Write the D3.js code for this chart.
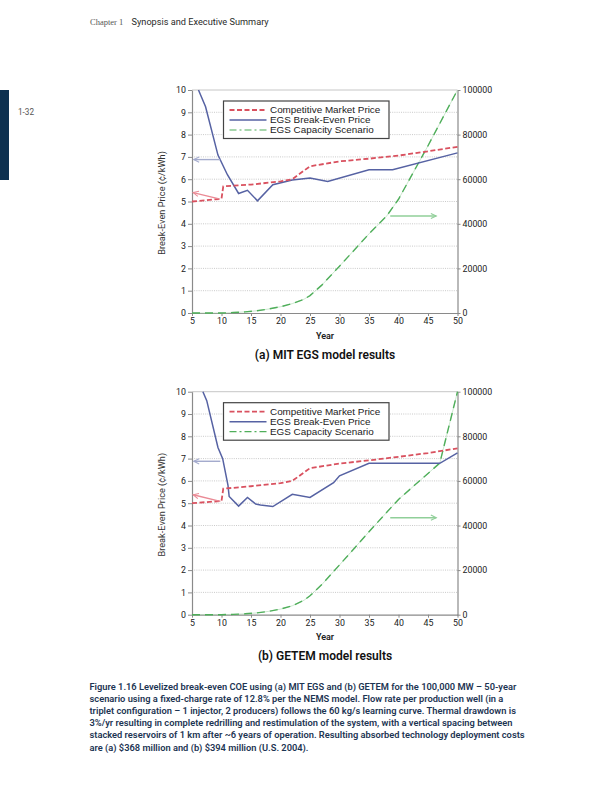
<!DOCTYPE html>
<html>
<head>
<meta charset="utf-8">
<script src="https://cdn.jsdelivr.net/npm/d3@7"></script>
<style>
  body { margin: 0; background: #fff; }
  svg { display: block; }
</style>
</head>
<body>
<svg id="page" width="612" height="792"></svg>
<script>
// tick labels
const yearTicks = [5, 10, 15, 20, 25, 30, 35, 40, 45, 50];
const priceTicks = [0, 1, 2, 3, 4, 5, 6, 7, 8, 9, 10];
const capTicks = [0, 20000, 40000, 60000, 80000, 100000];

const seriesNames = ["Competitive Market Price", "EGS Break-Even Price", "EGS Capacity Scenario"];

// (a) MIT EGS  [year, value]
const mitMarket = [[5, 5.0], [10, 5.12], [10.3, 5.68], [15, 5.76], [20, 5.9], [22, 6.0], [25, 6.58],
  [30, 6.8], [35, 6.92], [40, 7.06], [45, 7.25], [50, 7.45]];
const mitBreakEven = [[6.1, 10], [7.3, 9.25], [9.4, 7.08], [11, 6.2], [12.9, 5.36], [14.4, 5.5],
  [16.1, 5.03], [18.7, 5.75], [22, 5.96], [25, 6.05], [28, 5.9], [35, 6.42], [39, 6.42], [50, 7.18]];
const mitCapacity = [[5, 0], [10, 0], [12, 200], [14, 500], [16, 1000], [18, 1800], [20, 2800],
  [22, 4200], [24, 6200], [25, 7800], [27, 12500], [30, 21000], [35, 35500], [38, 43500],
  [40, 51000], [45, 75000], [50, 100000]];

// (b) GETEM
const getemMarket = [[5, 5.0], [10, 5.1], [10.3, 5.65], [15, 5.76], [20, 5.9], [22, 6.0], [25, 6.57],
  [30, 6.78], [35, 6.92], [40, 7.08], [45, 7.25], [50, 7.46]];
const getemBreakEven = [[6.85, 10], [7.5, 9.6], [9.4, 7.5], [10.2, 7.0], [11.1, 5.8], [11.3, 5.3],
  [12.9, 4.87], [14.4, 5.26], [15.8, 4.96], [16.6, 4.92], [18.7, 4.85], [22, 5.4], [25, 5.26],
  [29, 5.92], [30, 6.23], [35, 6.79], [47, 6.79], [50, 7.26]];
const getemCapacity = [[5, 0], [10, 0], [12, 150], [14, 400], [16, 800], [18, 1500], [20, 2500],
  [22, 4000], [24, 6500], [25, 8500], [27, 13500], [30, 22300], [35, 37200], [40, 51700],
  [47, 68000], [50, 100000]];

// annotation arrows: [x1, y1, x2, y2] in data units (left axis, except capacity on right axis)
const mitArrows = { blue: [9.8, 6.88, 5.3, 6.88], red: [9.6, 5.12, 5.2, 5.4], green: [38.6, 43500, 46.4, 43500] };
const getemArrows = { blue: [9.8, 6.88, 5.3, 6.88], red: [9.8, 5.08, 5.2, 5.38], green: [38.6, 43500, 46.4, 43500] };

const captionLines = [
  "Figure 1.16 Levelized break-even COE using (a) MIT EGS and (b) GETEM for the 100,000 MW \u2013 50-year",
  "scenario using a fixed-charge rate of 12.8% per the NEMS model. Flow rate per production well (in a",
  "triplet configuration \u2013 1 injector, 2 producers) follows the 60 kg/s learning curve. Thermal drawdown is",
  "3%/yr resulting in complete redrilling and restimulation of the system, with a vertical spacing between",
  "stacked reservoirs of 1 km after ~6 years of operation. Resulting absorbed technology deployment costs",
  "are (a) $368 million and (b) $394 million (U.S. 2004)."
];

const svg = d3.select("#page");
const sans = "Roboto, 'Liberation Sans', sans-serif";
const RED = "#d9515f", BLUE = "#5662a3", GREEN = "#4fae5a";

// header + side tab
svg.append("text").attr("x", 90).attr("y", 25).attr("font-family", "'Liberation Serif', serif")
  .attr("font-size", 8.5).attr("fill", "#555").text("Chapter 1");
svg.append("text").attr("x", 131.5).attr("y", 25).attr("font-family", sans)
  .attr("font-size", 9.2).attr("fill", "#2a2a2a").text("Synopsis and Executive Summary");
svg.append("rect").attr("x", 0).attr("y", 90).attr("width", 9).attr("height", 90).attr("fill", "#0e3150");
svg.append("text").attr("x", 18).attr("y", 115).attr("font-family", sans)
  .attr("font-size", 8.2).attr("fill", "#555").text("1-32");

function drawPanel(top, title, market, breakEven, capacity, arrows) {
  let x = d3.scaleLinear().domain([5, 50]).range([192, 457.5]);
  let y = d3.scaleLinear().domain([0, 10]).range([top + 223, top]);
  let yr = d3.scaleLinear().domain([0, 100000]).range([top + 223, top]);
  let g = svg.append("g");

  // grid
  g.selectAll(".grid").data(priceTicks.slice(1, -1)).join("line")
    .attr("x1", x(5)).attr("x2", x(50)).attr("y1", d => y(d)).attr("y2", d => y(d))
    .attr("stroke", "#bdbdbd").attr("stroke-width", 0.8).attr("stroke-dasharray", "1,1.2");
  g.append("line").attr("x1", x(5)).attr("x2", x(50)).attr("y1", y(10)).attr("y2", y(10))
    .attr("stroke", "#b8b8b8").attr("stroke-width", 0.8);

  // axes
  let styleAxis = (ax) => {
    ax.select(".domain").attr("stroke", "#8a8a8a").attr("stroke-width", 1.2);
    ax.selectAll(".tick line").attr("stroke", "#8a8a8a");
    ax.selectAll("text").attr("font-family", sans).attr("font-size", 8.8).attr("fill", "#222");
  };
  g.append("g").attr("transform", `translate(${x(5)},0)`)
    .call(d3.axisLeft(y).tickValues(priceTicks).tickSize(4).tickSizeOuter(0).tickPadding(2))
    .call(styleAxis);
  g.append("g").attr("transform", `translate(${x(50)},0)`)
    .call(d3.axisRight(yr).tickValues(capTicks).tickSize(3).tickSizeOuter(0).tickPadding(2).tickFormat(d3.format("d")))
    .call(styleAxis);
  g.append("g").attr("transform", `translate(0,${y(0)})`)
    .call(d3.axisBottom(x).tickValues(yearTicks).tickSize(3).tickSizeOuter(0).tickPadding(2))
    .call(styleAxis);

  // series
  let lineL = d3.line().x(d => x(d[0])).y(d => y(d[1]));
  let lineR = d3.line().x(d => x(d[0])).y(d => yr(d[1]));
  g.append("path").attr("d", lineR(capacity)).attr("fill", "none")
    .attr("stroke", "#a8d8ad").attr("stroke-width", 0.6);
  g.append("path").attr("d", lineR(capacity)).attr("fill", "none")
    .attr("stroke", GREEN).attr("stroke-width", 1.4).attr("stroke-dasharray", "8,5");
  g.append("path").attr("d", lineL(breakEven)).attr("fill", "none")
    .attr("stroke", BLUE).attr("stroke-width", 1.5);
  g.append("path").attr("d", lineL(market)).attr("fill", "none")
    .attr("stroke", RED).attr("stroke-width", 1.8).attr("stroke-dasharray", "5,2.5");

  // arrows
  let arrow = (a, sy, col) => {
    let x1 = x(a[0]), y1 = sy(a[1]), x2 = x(a[2]), y2 = sy(a[3]);
    let ang = Math.atan2(y2 - y1, x2 - x1), L = 6;
    g.append("line").attr("x1", x1).attr("y1", y1).attr("x2", x2).attr("y2", y2)
      .attr("stroke", col).attr("stroke-width", 1.4);
    g.append("path").attr("d", d3.line()([
      [x2 - L * Math.cos(ang - 0.45), y2 - L * Math.sin(ang - 0.45)], [x2, y2],
      [x2 - L * Math.cos(ang + 0.45), y2 - L * Math.sin(ang + 0.45)]]))
      .attr("fill", "none").attr("stroke", col).attr("stroke-width", 1.1);
  };
  arrow(arrows.blue, y, "#a4abcd");
  arrow(arrows.red, y, "#ea8a95");
  arrow(arrows.green, yr, "#90cf99");

  // legend
  let lg = g.append("g").attr("transform", `translate(223.5,${top + 11})`);
  lg.append("rect").attr("width", 165.5).attr("height", 37.5).attr("fill", "#fff")
    .attr("stroke", "#444").attr("stroke-width", 1.2);
  let legendStyles = [
    { c: RED, w: 1.8, dash: "5,2.5" },
    { c: BLUE, w: 1.5, dash: null },
    { c: GREEN, w: 1.2, dash: "7,3,2,3" }
  ];
  seriesNames.forEach((name, i) => {
    let cy = 9 + i * 10;
    lg.append("line").attr("x1", 6).attr("x2", 43).attr("y1", cy).attr("y2", cy)
      .attr("stroke", legendStyles[i].c).attr("stroke-width", legendStyles[i].w)
      .attr("stroke-dasharray", legendStyles[i].dash);
    lg.append("text").attr("x", 46.5).attr("y", cy + 3.4).attr("font-family", "'Liberation Sans', Arial, sans-serif")
      .attr("font-size", 9.9).attr("fill", "#222").text(name);
  });

  // labels
  svg.append("text").attr("transform", `translate(165,${top + 113}) rotate(-90)`)
    .attr("text-anchor", "middle").attr("font-family", sans).attr("font-size", 9.2).attr("fill", "#333")
    .text("Break-Even Price (\u00a2/kWh)");
  svg.append("text").attr("x", 325).attr("y", top + 248.5).attr("text-anchor", "middle")
    .attr("font-family", sans).attr("font-size", 9).attr("font-weight", 600).attr("fill", "#222").text("Year");
  svg.append("text").attr("x", 325).attr("y", top + 268.5).attr("text-anchor", "middle")
    .attr("font-family", sans).attr("font-size", 12).attr("font-weight", 600).attr("fill", "#111").text(title);
}

drawPanel(90, "(a) MIT EGS model results", mitMarket, mitBreakEven, mitCapacity, mitArrows);
drawPanel(391.7, "(b) GETEM model results", getemMarket, getemBreakEven, getemCapacity, getemArrows);

// caption
svg.append("g").selectAll("text").data(captionLines).join("text")
  .attr("x", 89.5).attr("y", (d, i) => 690 + i * 12.1)
  .attr("font-family", sans).attr("font-size", 9.3).attr("font-weight", 600).attr("fill", "#1d3553")
  .text(d => d);
</script>
</body>
</html>
